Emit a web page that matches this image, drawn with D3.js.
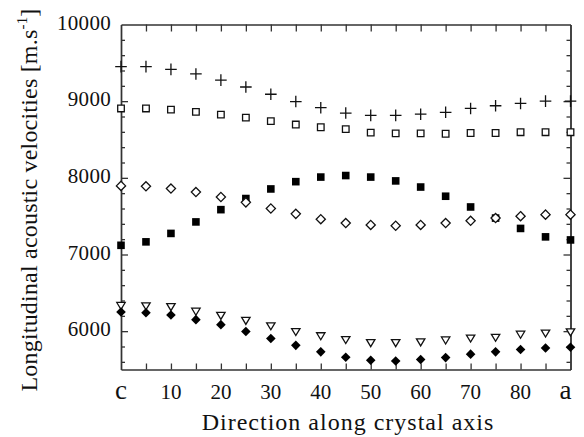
<!DOCTYPE html>
<html>
<head>
<meta charset="utf-8">
<script src="https://cdn.jsdelivr.net/npm/d3@7"></script>
<style>
  body { margin: 0; background: #fff; }
  svg { display: block; }
  text { font-family: "Liberation Serif", "Times New Roman", serif; fill: #111; }
</style>
</head>
<body>
<svg id="chart" width="584" height="437"></svg>
<script>
// Angle from c axis (deg), one point every 5 deg
const angles = [0, 5, 10, 15, 20, 25, 30, 35, 40, 45, 50, 55, 60, 65, 70, 75, 80, 85, 90];

// Longitudinal velocities [m/s]
const plusVel        = [9450, 9450, 9415, 9355, 9275, 9185, 9090, 8995, 8915, 8845, 8815, 8815, 8830, 8855, 8905, 8940, 8970, 9000, 9000];
const openSquareVel  = [8905, 8905, 8890, 8860, 8825, 8785, 8740, 8695, 8660, 8635, 8590, 8580, 8580, 8575, 8585, 8585, 8595, 8595, 8595];
const openDiamondVel = [7895, 7890, 7860, 7815, 7750, 7680, 7600, 7530, 7460, 7410, 7385, 7375, 7385, 7410, 7440, 7475, 7500, 7520, 7520];
const filledSquareVel = [7120, 7165, 7275, 7425, 7585, 7730, 7855, 7950, 8010, 8030, 8010, 7960, 7880, 7760, 7620, 7475, 7340, 7230, 7190];
const triangleVel    = [6330, 6325, 6315, 6255, 6200, 6135, 6065, 5990, 5935, 5885, 5845, 5845, 5855, 5880, 5905, 5915, 5955, 5970, 5985];
const filledDiamondVel = [6250, 6240, 6210, 6150, 6085, 5995, 5905, 5815, 5730, 5660, 5620, 5610, 5630, 5655, 5700, 5730, 5760, 5780, 5790];

// Tick labels
const xTickValues = [0, 10, 20, 30, 40, 50, 60, 70, 80, 90];
const xTickLabels = ["c", "10", "20", "30", "40", "50", "60", "70", "80", "a"];
const yTickValues = [6000, 7000, 8000, 9000, 10000];

const xTitle = "Direction along crystal axis";
const yTitle = "Longitudinal acoustic velocities [m.s";

// Layout
const svg = d3.select("#chart");
const margin = { top: 24.5, right: 13.5, bottom: 67.5, left: 121 };
const width = 584 - margin.left - margin.right;
const height = 437 - margin.top - margin.bottom;
const axisColor = "#333";

const x = d3.scaleLinear().domain([0, 90]).range([0, width]);
const y = d3.scaleLinear().domain([5500, 10000]).range([height, 0]);

const g = svg.append("g")
    .attr("transform", "translate(" + margin.left + "," + margin.top + ")");

// Minor / major ticks, all pointing inward
const xMinor = d3.range(5, 90, 5);
const yMinor = d3.range(5600, 10000, 200);

function drawAxis(axis, transform) {
    const a = g.append("g")
        .attr("transform", transform)
        .call(axis);
    a.select(".domain").attr("stroke", axisColor).attr("stroke-width", 1.4);
    a.selectAll(".tick line").attr("stroke", axisColor).attr("stroke-width", 1.3);
    return a;
}

// bottom / top ticks
drawAxis(d3.axisBottom(x).tickValues(xMinor).tickSize(-6).tickFormat("").tickSizeOuter(0),
    "translate(0," + height + ")");
drawAxis(d3.axisTop(x).tickValues(xMinor).tickSize(-7).tickFormat("").tickSizeOuter(0),
    "translate(0,0)");

// left / right minor + major ticks
const yMinorOnly = yMinor.filter(v => v % 1000 !== 0);
drawAxis(d3.axisLeft(y).tickValues(yMinorOnly).tickSize(-4).tickFormat("").tickSizeOuter(0), "translate(0,0)");
drawAxis(d3.axisLeft(y).tickValues(yTickValues.slice(0, 4)).tickSize(-7).tickFormat("").tickSizeOuter(0), "translate(0,0)");
drawAxis(d3.axisRight(y).tickValues(yMinorOnly).tickSize(-4).tickFormat("").tickSizeOuter(0), "translate(" + width + ",0)");
drawAxis(d3.axisRight(y).tickValues(yTickValues.slice(0, 4)).tickSize(-7).tickFormat("").tickSizeOuter(0), "translate(" + width + ",0)");

// y tick labels
g.selectAll(".ylab")
    .data(yTickValues)
    .enter().append("text")
    .attr("class", "ylab")
    .attr("x", -10)
    .attr("y", d => y(d) + 5)
    .attr("text-anchor", "end")
    .style("font-size", "21px")
    .style("letter-spacing", "0.3px")
    .text(d => d);

// x tick labels ("c" and "a" are bigger)
g.selectAll(".xlab")
    .data(xTickValues)
    .enter().append("text")
    .attr("class", "xlab")
    .attr("x", (d, i) => i === xTickValues.length - 1 ? x(d) + 1 : x(d))
    .attr("y", height + 29)
    .attr("text-anchor", (d, i) => i === xTickValues.length - 1 ? "end" : "middle")
    .style("font-size", (d, i) => (i === 0 || i === xTickValues.length - 1) ? "27px" : "21px")
    .text((d, i) => xTickLabels[i]);

// axis titles
svg.append("text")
    .attr("x", 348)
    .attr("y", 430)
    .attr("text-anchor", "middle")
    .style("font-size", "24px")
    .style("letter-spacing", "1px")
    .text(xTitle);

const yt = svg.append("text")
    .attr("transform", "translate(37,200) rotate(-90)")
    .attr("text-anchor", "middle")
    .style("font-size", "24px")
    .style("letter-spacing", "0.2px");
yt.append("tspan").text(yTitle);
yt.append("tspan").attr("dy", -10).style("font-size", "15px").text("-1");
yt.append("tspan").attr("dy", 10).text("]");

// Markers
const markers = {
    filledSquare: { path: "M-3.8,-3.8H3.8V3.8H-3.8Z", fill: "#000", stroke: "none" },
    openDiamond: { path: "M0,-4.6L4.6,0L0,4.6L-4.6,0Z", fill: "#fff", stroke: "#111" },
    triangle: { path: "M-4.2,-3.4H4.2L0,3.6Z", fill: "#fff", stroke: "#111" },
    filledDiamond: { path: "M0,-4.8L4.8,0L0,4.8L-4.8,0Z", fill: "#000", stroke: "none" },
    openSquare: { path: "M-3.3,-3.3H3.3V3.3H-3.3Z", fill: "#fff", stroke: "#111" },
    plus: { path: "M-5.8,0H5.8M0,-5.8V5.8", fill: "none", stroke: "#111" }
};

const series = [
    { key: "filledSquare", values: filledSquareVel },
    { key: "openDiamond", values: openDiamondVel },
    { key: "triangle", values: triangleVel },
    { key: "filledDiamond", values: filledDiamondVel },
    { key: "openSquare", values: openSquareVel },
    { key: "plus", values: plusVel }
];

series.forEach(s => {
    const m = markers[s.key];
    g.append("g")
        .attr("class", "series " + s.key)
        .selectAll("path")
        .data(s.values)
        .enter().append("path")
        .attr("transform", (d, i) => "translate(" + x(angles[i]) + "," + y(d) + ")")
        .attr("d", m.path)
        .attr("fill", m.fill)
        .attr("stroke", m.stroke)
        .attr("stroke-width", 1.3);
});
</script>
</body>
</html>
